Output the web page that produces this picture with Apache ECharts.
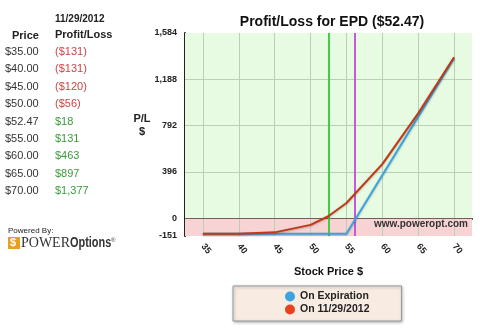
<!DOCTYPE html>
<html><head><meta charset="utf-8">
<script src="https://cdn.jsdelivr.net/npm/echarts@6/dist/echarts.min.js"></script>
<style>html,body{margin:0;padding:0;background:#fff}#c{width:480px;height:330px}</style>
</head><body><div id="c"></div>
<script>
const xTicks = [35, 40, 45, 50, 55, 60, 65, 70];
const yTicks = [-151, 0, 396, 792, 1188, 1584];
const expPrices = [35, 40, 45, 50, 55, 60, 65, 70];
const expValues = [-131, -131, -131, -131, -131, 369, 869, 1369];
const nowPrices = [35, 40, 45, 50, 52.47, 55, 60, 65, 70];
const nowValues = [-131, -131, -120, -56, 18, 131, 463, 897, 1377];
const stockPrice = 52.47;
const breakEven = 56.1;
const tablePrices = ['$35.00','$40.00','$45.00','$50.00','$52.47','$55.00','$60.00','$65.00','$70.00'];
const tablePL = ['($131)','($131)','($120)','($56)','$18','$131','$463','$897','$1,377'];
const tableSign = [-1,-1,-1,-1,1,1,1,1,1];

const FONT = '"Liberation Sans", Arial, sans-serif';
const chart = echarts.init(document.getElementById('c'), null, {renderer:'canvas'});

const graphics = [];
graphics.push({type:'text', left:55, top:14, style:{text:'11/29/2012', font:'bold 10px '+FONT, fill:'#222'}});
graphics.push({type:'text', left:55, top:29, style:{text:'Profit/Loss', font:'bold 11px '+FONT, fill:'#222'}});
graphics.push({type:'text', left:12, top:30, style:{text:'Price', font:'bold 11px '+FONT, fill:'#222'}});
tablePrices.forEach((p,i)=>{
  const y = 46.5 + i*17.4;
  graphics.push({type:'text', left:5, top:y, style:{text:p, font:'11px '+FONT, fill:'#333'}});
  graphics.push({type:'text', left:55, top:y, style:{text:tablePL[i], font:'11px '+FONT, fill: tableSign[i]<0 ? '#cc4444' : '#3a9a3a'}});
});
graphics.push({type:'text', left:8, top:227, style:{text:'Powered By:', font:'8px '+FONT, fill:'#222'}});
graphics.push({type:'rect', shape:{x:8, y:237, width:12, height:12}, style:{fill:'#e8a020'}});
graphics.push({type:'text', left:10, top:237, style:{text:'$', font:'bold 11px '+FONT, fill:'#fff'}});
graphics.push({type:'text', left:21, top:236, style:{text:'POWER', font:'14px "Liberation Serif", serif', fill:'#333'}});
graphics.push({type:'text', x:70, y:236, scaleX:0.78, style:{text:'Options', font:'bold 14px '+FONT, fill:'#333'}});
graphics.push({type:'text', left:111, top:237, style:{text:'®', font:'6px '+FONT, fill:'#333'}});
graphics.push({type:'text', x:142, y:112, style:{text:'P/L\n$', font:'bold 11px '+FONT, fill:'#222', align:'center', lineHeight:13}});
graphics.push({type:'text', x:468, y:224, style:{text:'www.poweropt.com', font:'bold 10px '+FONT, fill:'#333', align:'right', verticalAlign:'middle'}, z:50});

const gridMarks = [];
xTicks.forEach(v=>gridMarks.push({xAxis:v}));
[396, 792, 1188].forEach(v=>gridMarks.push({yAxis:v}));

const option = {
  animation:false,
  backgroundColor:'#fff',
  title:{text:'Profit/Loss for EPD ($52.47)', left:327, textAlign:'center', top:10,
    textStyle:{fontFamily:FONT, fontSize:14, fontWeight:'bold', color:'#111'}},
  grid:{left:185, top:33, right:8, bottom:94, containLabel:false},
  xAxis:{type:'value', min:32.5, max:72.5,
    name:'Stock Price $', nameLocation:'middle', nameGap:30,
    nameTextStyle:{fontFamily:FONT, fontSize:11, fontWeight:'bold', color:'#111'},
    axisLine:{show:true, lineStyle:{color:'#222', width:2}},
    axisTick:{show:true, customValues:xTicks, length:4, lineStyle:{color:'#222'}},
    axisLabel:{customValues:xTicks, rotate:-50, fontFamily:FONT, fontSize:9, fontWeight:'bold', color:'#222', margin:9},
    splitLine:{show:false}},
  yAxis:{type:'value', min:-151, max:1584,
    axisLine:{show:true, onZero:false, lineStyle:{color:'#222', width:2}},
    axisTick:{show:false},
    axisLabel:{customValues:yTicks, fontFamily:FONT, fontSize:9, fontWeight:'bold', color:'#222', margin:8,
      formatter:v=>v.toLocaleString('en-US')},
    splitLine:{show:false}},
  legend:{data:['On Expiration','On 11/29/2012'], orient:'vertical', left:233, top:286,
    icon:'circle', itemWidth:10, itemHeight:10, itemGap:2,
    padding:[5,32,6,52], backgroundColor:'#f8ebe2', borderColor:'#999', borderWidth:1,
    shadowColor:'rgba(0,0,0,0.3)', shadowBlur:3, shadowOffsetX:1, shadowOffsetY:1,
    textStyle:{fontFamily:FONT, fontSize:10.5, fontWeight:'bold', color:'#222'}},
  series:[
    {type:'line', name:'bg', data:[], silent:true,
      markArea:{silent:true, data:[
        [{yAxis:0, itemStyle:{color:'#e6fbe2'}}, {yAxis:1584}],
        [{yAxis:-151, itemStyle:{color:'#f8d3d3'}}, {yAxis:0}]
      ]},
      markLine:{silent:true, symbol:'none', label:{show:false},
        lineStyle:{color:'#b9cfb6', width:1, type:'solid'}, data:gridMarks}},
    {type:'line', name:'zero', data:[], silent:true,
      markLine:{silent:true, symbol:'none', label:{show:false},
        lineStyle:{color:'#7a5a5a', width:1, type:'solid'}, data:[{yAxis:0}]}},
    {type:'line', name:'price', data:[], silent:true,
      markLine:{silent:true, symbol:'none', label:{show:false},
        data:[{xAxis:stockPrice, lineStyle:{color:'#44cc44', width:2, type:'solid'}},
              {xAxis:breakEven, lineStyle:{color:'#cc55dd', width:2, type:'solid'}}]}},
    {type:'line', name:'On Expiration', data:expPrices.map((p,i)=>[p,expValues[i]]),
      showSymbol:false, symbol:'circle', color:'#3aa3e0',
      lineStyle:{color:'#3aa3e0', width:2, shadowColor:'rgba(0,0,0,0.25)', shadowBlur:2, shadowOffsetY:1}, z:5},
    {type:'line', name:'On 11/29/2012', data:nowPrices.map((p,i)=>[p,nowValues[i]]),
      showSymbol:false, symbol:'circle', color:'#e8411c',
      lineStyle:{color:'#c03a1a', width:2, shadowColor:'rgba(0,0,0,0.25)', shadowBlur:2, shadowOffsetY:1}, z:6}
  ],
  graphic:graphics
};
chart.setOption(option);
</script></body></html>
